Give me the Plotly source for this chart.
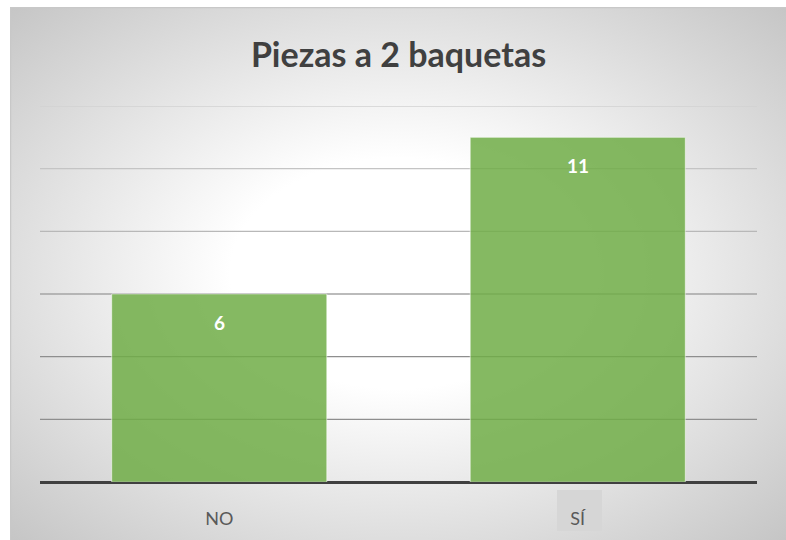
import base64
import plotly.graph_objects as go

# ---- data ----
categories = ["NO", "SÍ"]
values = [6, 11]
y_ticks = [0, 2, 4, 6, 8, 10, 12]
grid_values = [2, 4, 6, 8, 10, 12]
grid_colors = ["#8e8e8e", "#8e8e8e", "#a4a4a4", "#b8b8b8", "#c4c4c4", "#d2d2d2"]
title_text = "Piezas a 2 baquetas"

W, H = 786, 540
L, R, T, B = 40, 29, 106, 58
pw, ph = W - L - R, H - T - B

# radial gradient background (chart area of the reference)
svg = (
    '<svg xmlns="http://www.w3.org/2000/svg" width="776" height="533" preserveAspectRatio="none">'
    '<defs><radialGradient id="g" cx="0.5" cy="0.5" r="0.72" gradientUnits="objectBoundingBox">'
    '<stop offset="0" stop-color="#ffffff"/>'
    '<stop offset="0.30" stop-color="#ffffff"/>'
    '<stop offset="1" stop-color="#c4c4c4"/>'
    '</radialGradient></defs>'
    '<rect x="0" y="0" width="776" height="533" fill="url(#g)"/>'
    '<rect x="0.5" y="0.5" width="800" height="560" fill="none" stroke="#c8c8c8" stroke-width="1.5"/>'
    '</svg>'
)
src = "data:image/svg+xml;base64," + base64.b64encode(svg.encode()).decode()

def px_x(p):
    return (p - L) / pw

def px_y(p):
    return (H - B - p) / ph

fig = go.Figure()
fig.add_trace(go.Bar(
    x=categories, y=values,
    marker=dict(color="rgba(112,173,71,0.85)",
                line=dict(color="rgba(255,255,255,0.55)", width=1)),
    width=0.6, hoverinfo="skip",
))

shapes = []
for gv, gc in zip(grid_values, grid_colors):
    shapes.append(dict(type="line", xref="paper", yref="y", x0=0, x1=1, y0=gv, y1=gv,
                       line=dict(color=gc, width=1.3), layer="below"))
# selection highlight behind the "SÍ" label
shapes.append(dict(type="rect", xref="paper", yref="paper",
                   x0=px_x(557), x1=px_x(602), y0=px_y(531), y1=px_y(490),
                   fillcolor="#d6d6d6", line=dict(width=0), layer="below"))

annotations = [
    dict(x=c, y=v, xref="x", yref="y", text=str(v), showarrow=False, yshift=-28,
         font=dict(family="Lato", size=19, color="white", weight="bold"))
    for c, v in zip(categories, values)
]

fig.update_layout(
    width=W, height=H,
    margin=dict(l=L, r=R, t=T, b=B),
    paper_bgcolor="white", plot_bgcolor="rgba(0,0,0,0)",
    images=[dict(source=src, xref="paper", yref="paper",
                 x=px_x(10), y=px_y(7), sizex=px_x(786) - px_x(10), sizey=px_y(7) - px_y(540),
                 xanchor="left", yanchor="top", sizing="stretch", layer="below")],
    title=dict(text=title_text, x=0.5, xref="paper", xanchor="center",
               y=1 - 55 / H, yanchor="middle",
               font=dict(family="Lato", size=34, color="#404040", weight="bold")),
    shapes=shapes,
    annotations=annotations,
    showlegend=False,
    bargap=0.4,
    xaxis=dict(showgrid=False, showline=False, zeroline=False,
               ticks="outside", ticklen=20, tickcolor="rgba(0,0,0,0)",
               tickfont=dict(family="Lato", size=18, color="#595959")),
    yaxis=dict(range=[0, 12], tickvals=y_ticks, showticklabels=False, showgrid=False,
               zeroline=True, zerolinecolor="#404040", zerolinewidth=3, fixedrange=True),
)

fig.write_html("out.html", config={"displayModeBar": False},
               post_script="document.body.style.margin='0px';document.body.style.overflow='hidden';")
